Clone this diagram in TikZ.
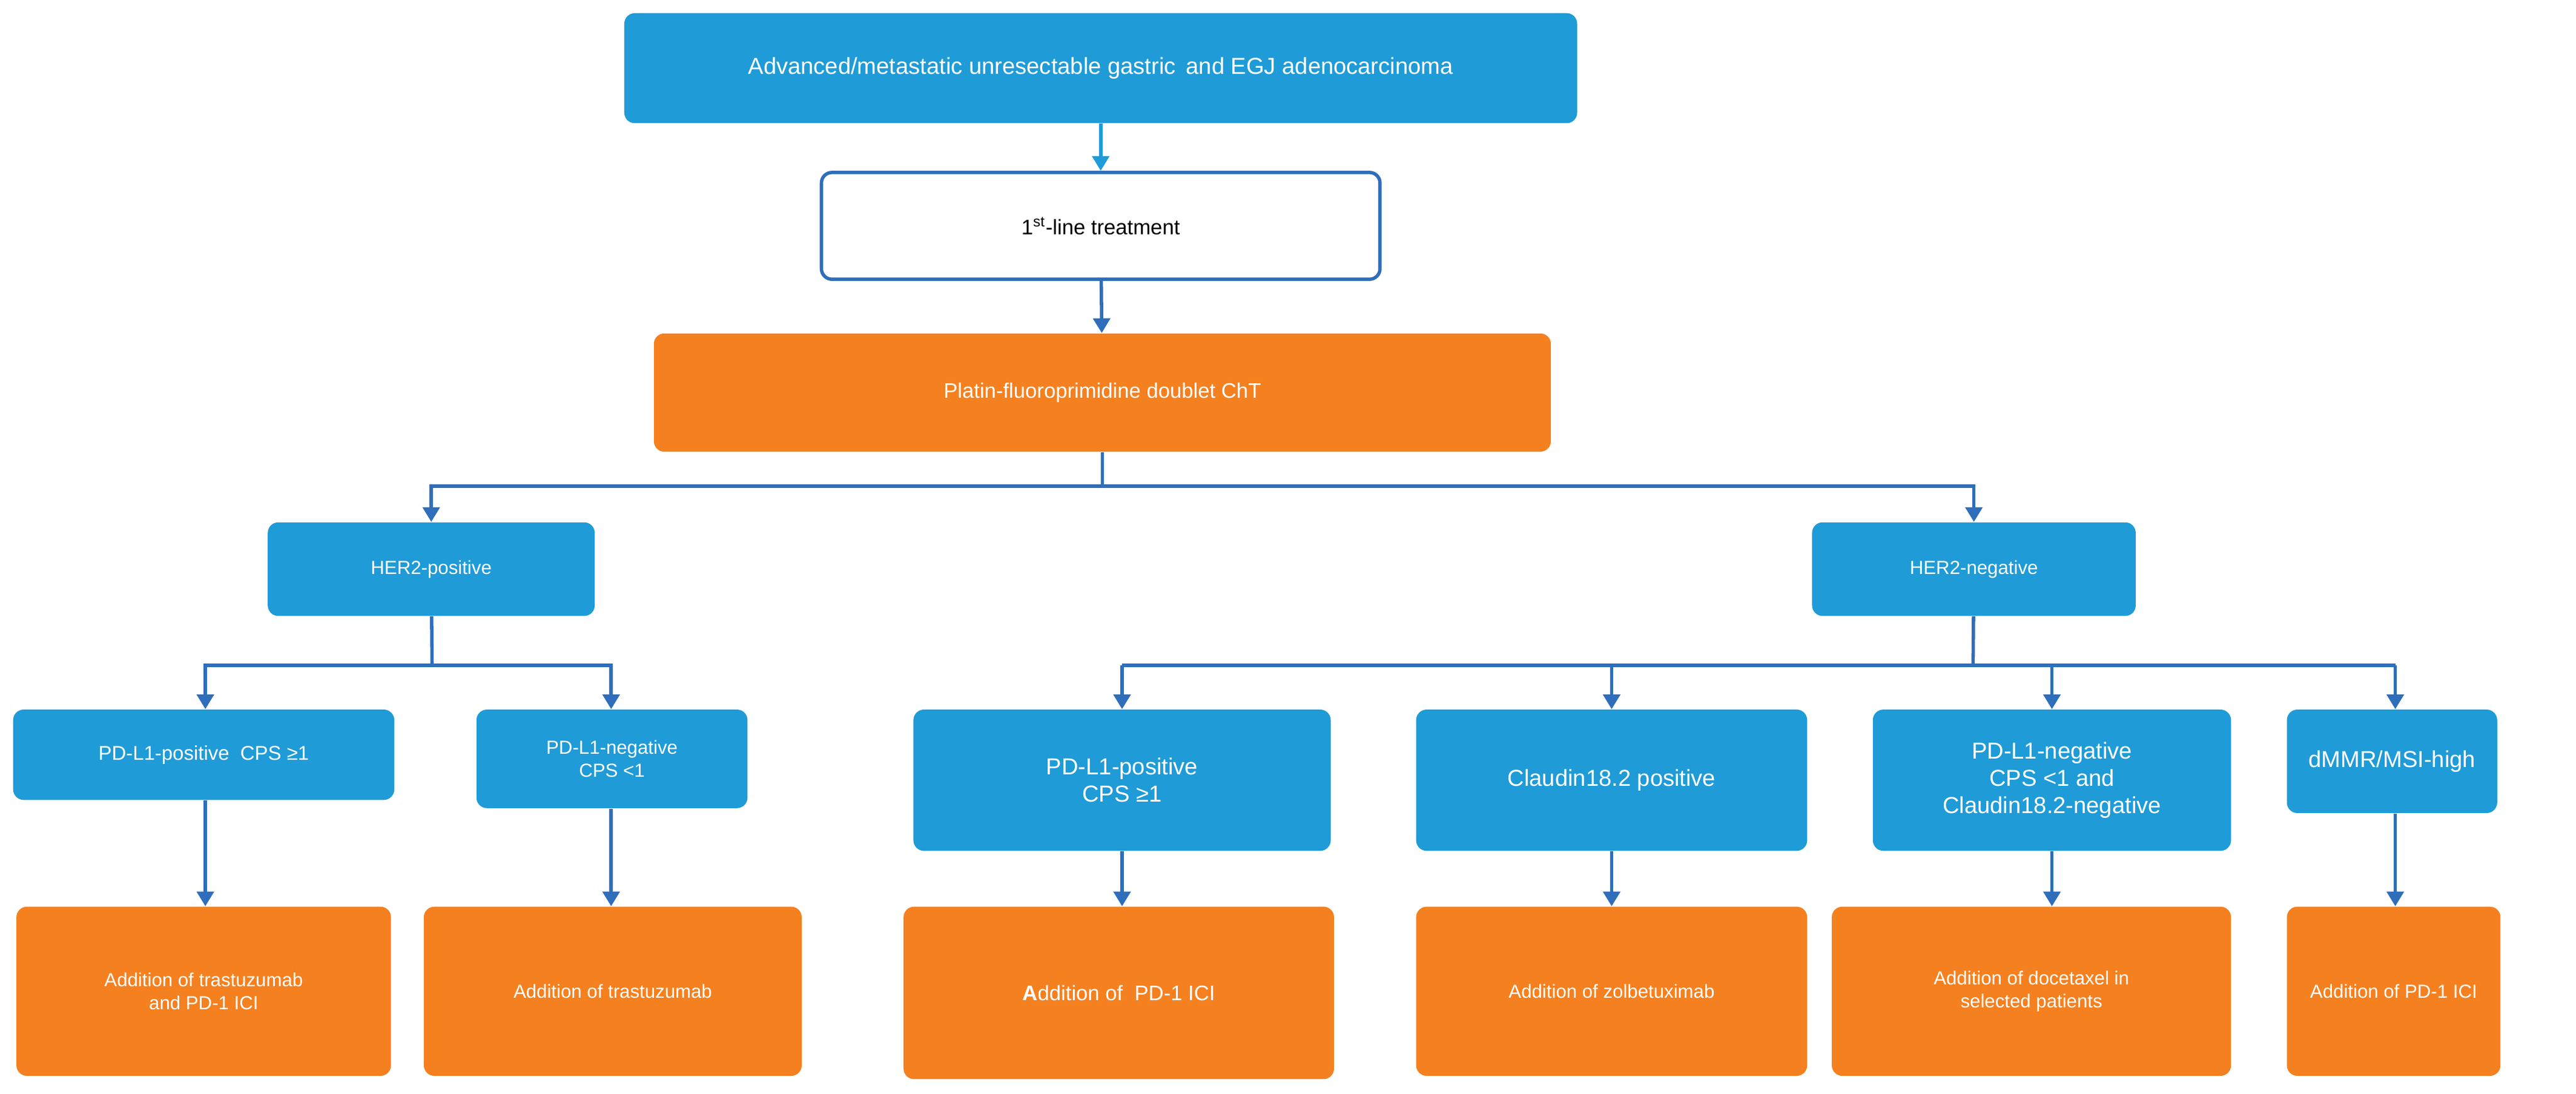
\documentclass[tikz,border=0pt]{standalone}
\usepackage{fontspec}
\setmainfont{Liberation Sans}
\usetikzlibrary{arrows.meta}
\definecolor{bl}{HTML}{1F9BD7}
\definecolor{ln}{HTML}{2F6EBA}
\definecolor{or}{HTML}{F5801F}
\begin{document}
\begin{tikzpicture}[x=0.0275cm,y=-0.0275cm,
 box/.style={rounded corners=5pt,draw=none,text=white,align=center,font=\fontsize{9}{11}\selectfont},
 b/.style={box,fill=bl}, o/.style={box,fill=or},
 ar/.style={draw=ln,line width=1.6pt,-{Triangle[length=7pt,width=8pt]}},
 ln/.style={draw=ln,line width=1.6pt}]
\useasboundingbox (0,0) rectangle (1568,666);
\newcommand\tb[7]{\node[#1,minimum width={(#4-#2)*0.0275cm},minimum height={(#5-#3)*0.0275cm}] (#6) at ({(#2+#4)/2},{(#3+#5)/2}) {#7};}
\tb{b,font=\fontsize{11}{13}\selectfont}{380}{8}{960}{75}{top}{Advanced/metastatic unresectable gastric\, and EGJ adenocarcinoma}
\tb{box,fill=white,draw=ln,line width=1.6pt,text=black,font=\fontsize{10}{12}\selectfont}{500}{105}{840}{170}{first}{1\textsuperscript{st}-line treatment}
\tb{o,font=\fontsize{10}{12}\selectfont}{398}{203}{944}{275}{chem}{Platin-fluoroprimidine doublet ChT}
\tb{b}{163}{318}{362}{375}{hp}{HER2-positive}
\tb{b}{1103}{318}{1300}{375}{hn}{HER2-negative}
\tb{b,font=\fontsize{9.5}{11}\selectfont}{8}{432}{240}{487}{p1}{PD-L1-positive\; CPS ≥1}
\tb{b}{290}{432}{455}{492}{p2}{PD-L1-negative\\CPS <1}
\tb{b,font=\fontsize{11}{13}\selectfont}{556}{432}{810}{518}{n1}{PD-L1-positive\\CPS ≥1}
\tb{b,font=\fontsize{11}{13}\selectfont}{862}{432}{1100}{518}{n2}{Claudin18.2 positive}
\tb{b,font=\fontsize{11}{13}\selectfont}{1140}{432}{1358}{518}{n3}{PD-L1-negative\\CPS <1 and\\Claudin18.2-negative}
\tb{b,font=\fontsize{11}{13}\selectfont}{1392}{432}{1520}{495}{n4}{dMMR/MSI-high}
\tb{o}{10}{552}{238}{655}{q1}{Addition of trastuzumab\\and PD-1 ICI}
\tb{o}{258}{552}{488}{655}{q2}{Addition of trastuzumab}
\tb{o,font=\fontsize{10}{12}\selectfont}{550}{552}{812}{657}{m1}{\textbf{A}ddition of\; PD-1 ICI}
\tb{o}{862}{552}{1100}{655}{m2}{Addition of zolbetuximab}
\tb{o}{1115}{552}{1358}{655}{m3}{Addition of docetaxel in\\selected patients}
\tb{o}{1392}{552}{1522}{655}{m4}{Addition of PD-1 ICI}
\draw[ar,draw=bl] (top) -- (first);
\draw[ar] (first) -- (chem);
\coordinate (j0) at (671,296);
\draw[ln] (chem.south -| j0) -- (j0);
\draw[ar] (j0) -| (hp);
\draw[ar] (j0) -| (hn);
\coordinate (j1) at (263,405);
\draw[ln] (hp) -- (j1);
\draw[ar] (j1) -| (p1.north -| 125,0);
\draw[ar] (j1) -| (p2.north -| 372,0);
\draw[ar] (p1.south -| 125,0) -- (q1.north -| 125,0);
\draw[ar] (p2.south -| 372,0) -- (q2.north -| 372,0);
\coordinate (j2) at (1201,405);
\draw[ln] (hn) -- (j2);
\draw[ln] (683,405) -- (1458,405);
\draw[ar] (683,405) -- (n1.north -| 683,0);
\draw[ar] (981,405) -- (n2.north);
\draw[ar] (1249,405) -- (n3.north);
\draw[ar] (1458,405) -- (n4.north -| 1458,0);
\draw[ar] (n1.south -| 683,0) -- (m1.north -| 683,0);
\draw[ar] (n2.south) -- (m2.north -| n2);
\draw[ar] (n3.south) -- (m3.north -| n3);
\draw[ar] (n4.south -| 1458,0) -- (m4.north -| 1458,0);
\end{tikzpicture}
\end{document}
